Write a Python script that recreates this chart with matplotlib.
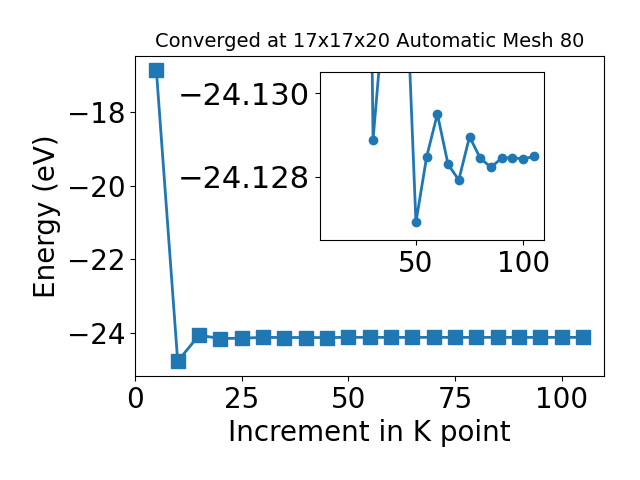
import matplotlib
matplotlib.use("Agg")
import matplotlib.pyplot as plt
from matplotlib.ticker import FuncFormatter

kpoints = [5, 10, 15, 20, 25, 30, 35, 40, 45, 50, 55, 60, 65, 70, 75, 80, 85, 90, 95, 100, 105]
energy = [-16.85, -24.78, -24.07, -24.16, -24.15, -24.12889, -24.1319, -24.1325, -24.1333,
          -24.12692, -24.12848, -24.1295, -24.12830, -24.12793, -24.12896, -24.12845,
          -24.12823, -24.12845, -24.12846, -24.12843, -24.12849]

inset_k = kpoints[3:]
inset_e = energy[3:]

fig = plt.figure(figsize=(6.4, 4.8), dpi=100)
ax = fig.add_axes([0.211, 0.217, 0.733, 0.667])
ax.plot(kpoints, energy, marker='s', markersize=10, linewidth=2, color='#1f77b4')
ax.set_title("Converged at 17x17x20 Automatic Mesh 80", fontsize=14)
ax.set_xlabel("Increment in K point", fontsize=20)
ax.set_ylabel("Energy (eV)", fontsize=20)
ax.tick_params(labelsize=20)
ax.set_xticks([0, 25, 50, 75, 100])
ax.set_yticks([-24, -22, -20, -18])

ins = fig.add_axes([0.5, 0.5, 0.35, 0.35])
ins.plot(inset_k, inset_e, marker='o', markersize=6, linewidth=2, color='#1f77b4')
ins.set_xlim(5.25, 109.75)
ins.set_ylim(-24.1265, -24.1305)
ins.set_yticks([-24.130, -24.128])
ins.set_xticks([50, 100])
ins.yaxis.set_major_formatter(FuncFormatter(lambda v, p: ("%.3f" % v).replace("-", "\u2212")))
ins.tick_params(axis='x', labelsize=20)
ins.tick_params(axis='y', labelsize=22)

fig.savefig("out.png", dpi=100)
